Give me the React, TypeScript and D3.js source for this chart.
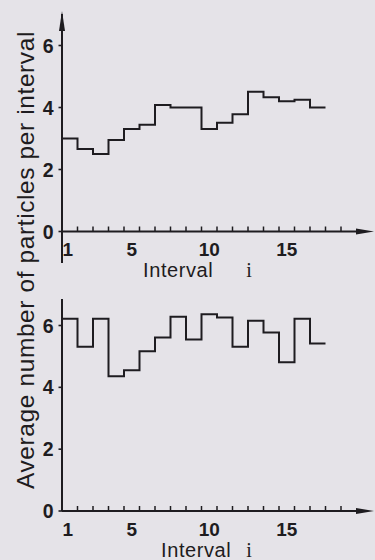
import React from "react";
import * as d3 from "d3";

// ---- data ----
const intervals = [1, 2, 3, 4, 5, 6, 7, 8, 9, 10, 11, 12, 13, 14, 15, 16, 17];
const topValues = [3.0, 2.66, 2.5, 2.95, 3.31, 3.44, 4.08, 4.0, 4.0, 3.31, 3.51, 3.78, 4.51, 4.33, 4.2, 4.25, 4.0];
const bottomValues = [6.22, 5.31, 6.22, 4.36, 4.55, 5.17, 5.61, 6.28, 5.55, 6.36, 6.26, 5.31, 6.15, 5.77, 4.81, 6.22, 5.42];
const yTickValues = [0, 2, 4, 6];
const xTickLabels = [1, 5, 10, 15];
const xTickCount = 18;
const yTitle = "Average number of particles per interval";
const xTitleWord = "Interval";
const xTitleVar = "i";

const W = 375;
const H = 560;
const BG = "rgb(229,227,232)";
const INK = "#1e1c20";
const SANS = "'Liberation Sans', Arial, Helvetica, sans-serif";

const x = d3.scaleLinear().domain([0, xTickCount]).range([62, 341]);

type PanelProps = {
  values: number[];
  y0: number;
  y6: number;
  axisTop: number;
  arrow: boolean;
  axisBottom: number;
  titleX: number;
};

function Panel({ values, y0, y6, axisTop, arrow, axisBottom, titleX }: PanelProps) {
  const y = d3.scaleLinear().domain([0, 6]).range([y0, y6]);
  const pts: [number, number][] = intervals.map((d, i) => [d - 1, values[i]]);
  pts.push([intervals[intervals.length - 1], values[values.length - 1]]);
  const line = d3
    .line<[number, number]>()
    .x((d) => x(d[0]))
    .y((d) => y(d[1]))
    .curve(d3.curveStepAfter);
  const ax = x(0);
  const boundaries = d3.range(1, xTickCount + 1);
  return (
    <g>
      {/* y axis */}
      <line x1={ax} x2={ax} y1={axisBottom} y2={axisTop} stroke={INK} strokeWidth={2} />
      {arrow && (
        <path d={`M${ax},${axisTop - 3} L${ax - 3},${axisTop + 17} L${ax + 3},${axisTop + 17} Z`} fill={INK} />
      )}
      {yTickValues.map((t) => (
        <g key={t}>
          <line x1={ax - 3.5} x2={ax} y1={y(t)} y2={y(t)} stroke={INK} strokeWidth={1.6} />
          <text
            x={53.5}
            y={y(t) + 7}
            textAnchor="end"
            fontFamily={SANS}
            fontWeight="bold"
            fontSize={19.5}
            fill={INK}
          >
            {t}
          </text>
        </g>
      ))}
      {/* x axis */}
      <line x1={ax} x2={358} y1={y0} y2={y0} stroke={INK} strokeWidth={2} />
      <path d={`M374,${y0} L356,${y0 - 3} L356,${y0 + 3} Z`} fill={INK} />
      {boundaries.map((b) => (
        <line key={b} x1={x(b)} x2={x(b)} y1={y0} y2={y0 - 5} stroke={INK} strokeWidth={1.5} />
      ))}
      {xTickLabels.map((t) => (
        <text
          key={t}
          x={x(t - 0.5) - (t === 1 ? 2 : 0)}
          y={y0 + 24.5}
          textAnchor="middle"
          fontFamily={SANS}
          fontWeight="bold"
          fontSize={19}
          fill={INK}
        >
          {t}
        </text>
      ))}
      <text x={titleX} y={y0 + 45.5} fontFamily={SANS} fontSize={20} letterSpacing={0.6} fill={INK}>
        {xTitleWord}
      </text>
      <text x={249} y={y0 + 45.5} textAnchor="middle" fontFamily="'Liberation Serif', serif" fontSize={20} fill={INK}>
        {xTitleVar}
      </text>
      {/* step line */}
      <path d={line(pts) || ""} fill="none" stroke={INK} strokeWidth={2} strokeLinejoin="miter" />
    </g>
  );
}

export default function App() {
  return (
    <svg
      width={W}
      height={H}
      viewBox={`0 0 ${W} ${H}`}
      style={{ position: "fixed", left: 0, top: 0, display: "block" }}
    >
      <rect x={0} y={0} width={W} height={H} fill={BG} />
      <Panel values={topValues} y0={231.5} y6={45.5} axisTop={14} arrow={true} axisBottom={263} titleX={143} />
      <Panel values={bottomValues} y0={511} y6={325.5} axisTop={299} arrow={false} axisBottom={511} titleX={161} />
      <text
        transform={`translate(34,260) rotate(-90)`}
        textAnchor="middle"
        fontFamily={SANS}
        fontSize={24.5}
        letterSpacing={0.6}
        fill={INK}
      >
        {yTitle}
      </text>
    </svg>
  );
}
